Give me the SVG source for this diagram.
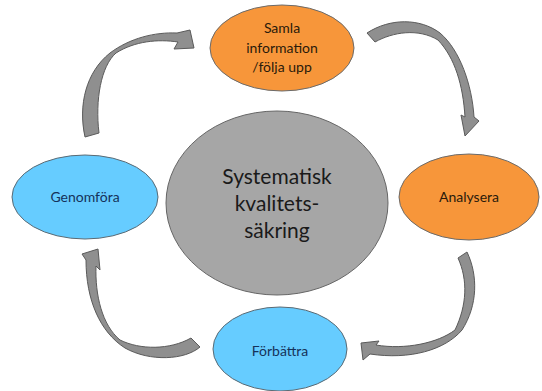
<svg xmlns="http://www.w3.org/2000/svg" width="542" height="391" viewBox="0 0 542 391">
<style>
.orange{fill:#f7963a;stroke:#6b6b6b;stroke-width:1}
.blue{fill:#66ccff;stroke:#5a6a74;stroke-width:1}
.gray{fill:#a6a6a6;stroke:#666;stroke-width:1}
.arrow{fill:#8f8f8f;stroke:#5a5a5a;stroke-width:1;stroke-linejoin:miter}
.t{font-family:Lato,"Open Sans",sans-serif;text-anchor:middle;font-size:14px}
.dark{fill:#2a1a0a}
.navy{fill:#15325a}
.big{font-size:21px;fill:#1a1a1a}
</style>
<rect width="542" height="391" fill="#fff"/>
<g id="connectors">
<path class="arrow" d="M85,137 C78,105 86,72 110,53 C130,38 155,32 177,33 L190,30 L194,48 L174,49 L178,42 C158,39 135,41 116,53 C101,66 95,100 99,133 Z"/>
<path class="arrow" d="M367,33 C390,18 420,18 440,33 C460,50 472,85 474,117 L479,121 L465,136 L461,115 L465,117 C463,85 455,58 438,40 C418,28 393,32 375,42 Z"/>
<path class="arrow" d="M458,258 L467,252 C478,275 478,305 462,330 C445,350 410,360 370,354 L363,360 L361,343 L379,341 L376,345 C405,350 438,343 455,330 C467,305 468,280 458,258 Z"/>
<path class="arrow" d="M191,338 L200,347 C185,360 150,362 125,348 C100,332 86,300 86,260 L82,254 L98,249 L100,270 L96,266 C95,295 102,325 120,340 C140,350 170,350 191,338 Z"/>
</g>
<g id="center">
<ellipse class="gray" cx="277" cy="203" rx="111" ry="92"/>
<text class="t big" x="277" y="184">Systematisk</text>
<text class="t big" x="277" y="211">kvalitets-</text>
<text class="t big" x="277" y="238">säkring</text>
</g>
<g id="samla">
<ellipse class="orange" cx="282" cy="48" rx="72" ry="43"/>
<text class="t dark" x="282" y="33">Samla</text>
<text class="t dark" x="282" y="53">information</text>
<text class="t dark" x="282" y="72">/följa upp</text>
</g>
<g id="analysera">
<ellipse class="orange" cx="469" cy="197" rx="70" ry="43"/>
<text class="t dark" x="469" y="202">Analysera</text>
</g>
<g id="forbattra">
<ellipse class="blue" cx="280" cy="349" rx="67" ry="42"/>
<text class="t navy" x="280" y="356">Förbättra</text>
</g>
<g id="genomfora">
<ellipse class="blue" cx="85" cy="197" rx="73" ry="42"/>
<text class="t navy" x="85" y="202">Genomföra</text>
</g>
</svg>
